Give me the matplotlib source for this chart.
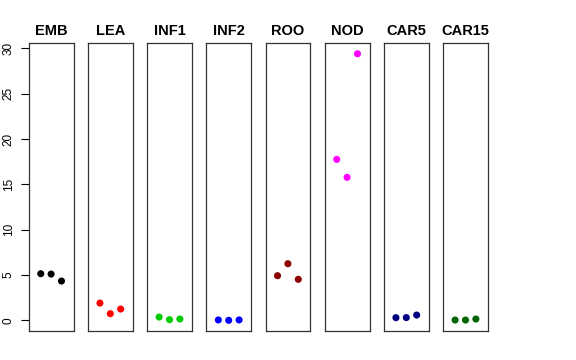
import matplotlib
matplotlib.use("Agg")
import matplotlib.pyplot as plt

plt.rcParams['font.family'] = ['Liberation Sans', 'DejaVu Sans']

tissues = ["EMB", "LEA", "INF1", "INF2", "ROO", "NOD", "CAR5", "CAR15"]
colors = ["black", "red", "#00CD00", "blue", "#8B0000", "magenta", "#000080", "#006400"]
rep_x = [1, 2, 3]
emb = [5.14, 5.1, 4.33]
lea = [1.9, 0.73, 1.24]
inf1 = [0.36, 0.07, 0.14]
inf2 = [0.04, 0.0, 0.04]
roo = [4.92, 6.24, 4.52]
nod = [17.75, 15.77, 29.4]
car5 = [0.29, 0.3, 0.58]
car15 = [0.03, 0.03, 0.14]
values = [emb, lea, inf1, inf2, roo, nod, car5, car15]
yticks = [0, 5, 10, 15, 20, 25, 30]

W, H = 576, 360
fig = plt.figure(figsize=(W / 100, H / 100), dpi=100)
lefts = [28.7, 87.9, 147.1, 206.3, 265.5, 324.7, 383.9, 443.1]
pw = 44.8
top_px, bot_px = 43.3, 331.0
for i, (name, col, vals) in enumerate(zip(tissues, colors, values)):
    ax = fig.add_axes([lefts[i] / W, 1 - bot_px / H, pw / W, (bot_px - top_px) / H])
    ax.scatter(rep_x, vals, s=26, color=col, edgecolors='none', zorder=3)
    ax.set_xlim(-0.16, 4.16)
    ax.set_ylim(-1.18, 30.55)
    ax.set_xticks([])
    for s in ax.spines.values():
        s.set_linewidth(0.9)
        s.set_color('#333333')
    ax.set_title(name, fontsize=10.5, fontweight='bold', pad=6)
    if i == 0:
        ax.set_yticks(yticks)
        ax.set_yticklabels([str(t) for t in yticks], rotation=90, va='center', fontsize=8.5)
        ax.tick_params(axis='y', length=6, width=0.8, pad=4)
    else:
        ax.set_yticks([])

fig.savefig("out.png", dpi=100)
